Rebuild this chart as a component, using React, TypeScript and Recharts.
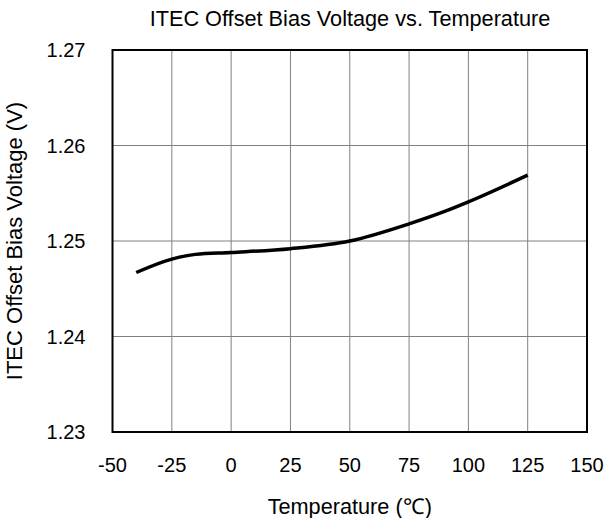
import { LineChart, Line, XAxis, YAxis, CartesianGrid, ReferenceArea, Label } from 'recharts';

const temps = [-40, -25, -15, 0, 25, 50, 75, 90, 100, 125];
const biasVolts = [1.2467, 1.2481, 1.2486, 1.2488, 1.2492, 1.25, 1.2518, 1.2531, 1.2541, 1.2569];
const xTicks = [-50, -25, 0, 25, 50, 75, 100, 125, 150];
const yTicks = [1.23, 1.24, 1.25, 1.26, 1.27];

const data = temps.map((t, i) => ({ temp: t, volt: biasVolts[i] }));

const font = 'Liberation Sans, Arial, sans-serif';

export default function App() {
  return (
    <div style={{ position: 'absolute', left: 0, top: 0, width: 613, height: 518, fontFamily: font }}>
      <div
        style={{
          position: 'absolute',
          left: 100,
          width: 500,
          top: 6,
          textAlign: 'center',
          fontSize: 21.7,
          lineHeight: '26px',
          color: '#000',
        }}
      >
        ITEC Offset Bias Voltage vs. Temperature
      </div>
      <LineChart width={613} height={518} data={data} margin={{ top: 50, right: 26, bottom: 0, left: 0 }}>
        <CartesianGrid stroke="#808080" strokeWidth={1} horizontalValues={yTicks} verticalValues={xTicks} />
        <XAxis
          dataKey="temp"
          type="number"
          domain={[-50, 150]}
          ticks={xTicks}
          height={86}
          axisLine={false}
          tickLine={false}
          tickSize={0}
          tickMargin={26}
          tick={{ fill: '#000', fontSize: 20, fontFamily: font }}
        >
          <Label value="Temperature (℃)" position="insideBottom" offset={4} fill="#000" fontSize={21.7} fontFamily={font} />
        </XAxis>
        <YAxis
          type="number"
          domain={[1.23, 1.27]}
          ticks={yTicks}
          width={112.5}
          axisLine={false}
          tickLine={false}
          tickSize={0}
          tickMargin={27}
          tickFormatter={(v: number) => v.toFixed(2)}
          tick={{ fill: '#000', fontSize: 20, fontFamily: font }}
        >
          <Label
            value="ITEC Offset Bias Voltage (V)"
            angle={-90}
            position="insideLeft"
            offset={14}
            style={{ textAnchor: 'middle' }}
            fill="#000"
            fontSize={22}
            fontFamily={font}
          />
        </YAxis>
        <ReferenceArea x1={-50} x2={150} y1={1.23} y2={1.27} fill="none" stroke="#000" strokeWidth={2} ifOverflow="visible" />
        <Line
          type="monotone"
          dataKey="volt"
          stroke="#000"
          strokeWidth={3.5}
          dot={false}
          isAnimationActive={false}
        />
      </LineChart>
    </div>
  );
}
